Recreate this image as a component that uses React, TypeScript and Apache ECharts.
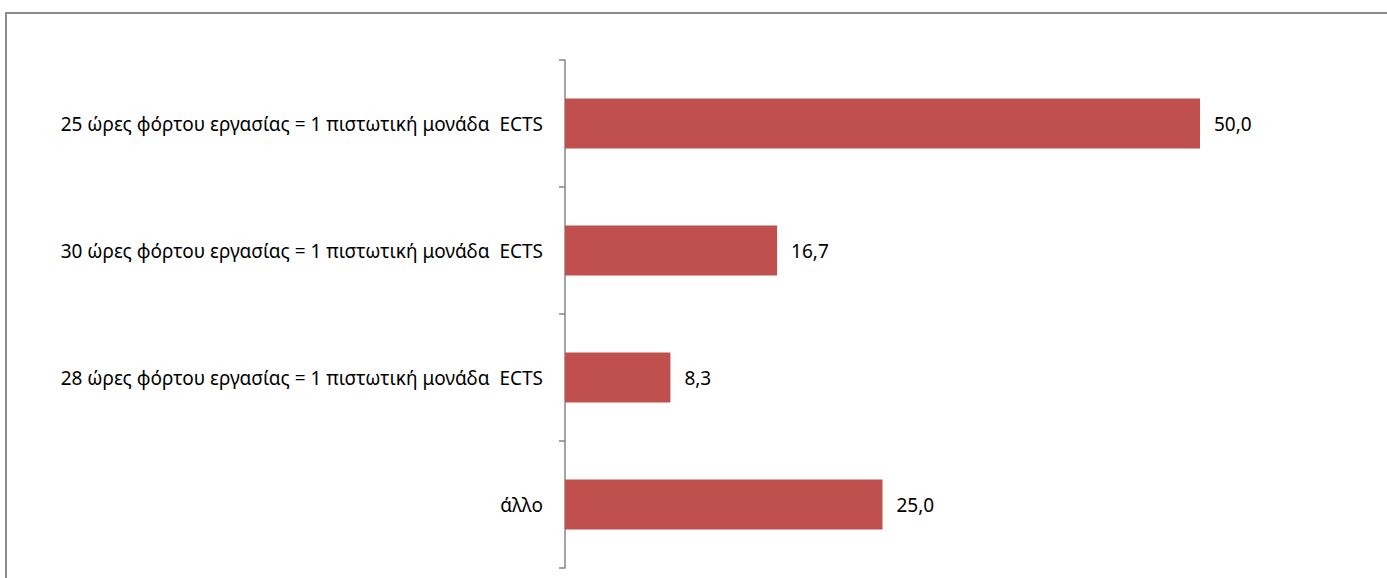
import React, { useEffect, useRef } from "react";
import * as echarts from "echarts";

const categories = [
  "25 ώρες φόρτου εργασίας = 1 πιστωτική μονάδα  ECTS",
  "30 ώρες φόρτου εργασίας = 1 πιστωτική μονάδα  ECTS",
  "28 ώρες φόρτου εργασίας = 1 πιστωτική μονάδα  ECTS",
  "άλλο",
];
const values = [50.0, 16.7, 8.3, 25.0];

const FONT = "'Noto Sans', 'Open Sans', sans-serif";

export default function App() {
  const ref = useRef<HTMLDivElement>(null);
  useEffect(() => {
    document.body.style.margin = "0";
    const chart = echarts.init(ref.current!, null, { renderer: "svg" });
    chart.setOption({
      animation: false,
      backgroundColor: "#ffffff",
      textStyle: { fontFamily: FONT },
      graphic: [
        {
          type: "rect",
          shape: { x: 6, y: 13, width: 1400, height: 600 },
          style: { fill: "none", stroke: "#8a8a8a", lineWidth: 2 },
          silent: true,
        },
      ],
      grid: { left: 565, right: 60, top: 60, bottom: 10 },
      xAxis: {
        type: "value",
        min: 0,
        max: 60,
        show: false,
      },
      yAxis: {
        type: "category",
        data: categories,
        inverse: true,
        axisLine: { show: true, lineStyle: { color: "#868686", width: 1.5 } },
        axisTick: { show: true, length: 6, lineStyle: { color: "#868686", width: 1.5 } },
        axisLabel: {
          margin: 22,
          fontSize: 19,
          color: "#000000",
          fontFamily: FONT,
        },
      },
      series: [
        {
          type: "bar",
          data: values,
          barWidth: 50,
          itemStyle: { color: "#C0504D" },
          label: {
            show: true,
            position: "right",
            distance: 14,
            fontSize: 19,
            color: "#000000",
            fontFamily: FONT,
            formatter: (p: any) => p.value.toFixed(1).replace(".", ","),
          },
        },
      ],
    });
    return () => chart.dispose();
  }, []);
  return <div ref={ref} style={{ position: "fixed", left: 0, top: 0, width: 1387, height: 578 }} />;
}
